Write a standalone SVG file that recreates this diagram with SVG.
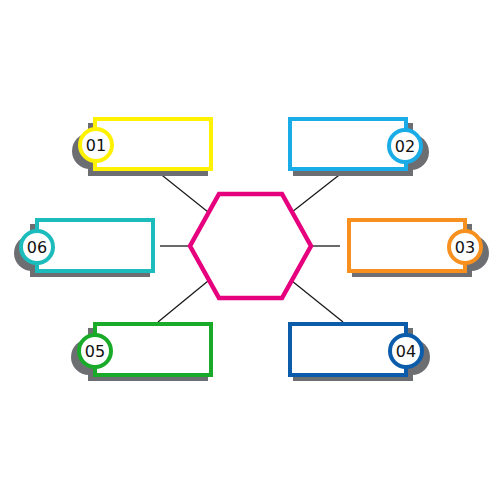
<svg xmlns="http://www.w3.org/2000/svg" width="500" height="500" viewBox="0 0 500 500">
<style>
.sh{fill:#6d6e71}
.bx{fill:#fff;stroke-width:4}
.num{font-family:"DejaVu Sans",Verdana,sans-serif;font-size:16px;fill:#111;text-anchor:middle}
.ln{stroke:#1a1a1a;stroke-width:1.3;fill:none}
</style>
<rect width="500" height="500" fill="#fff"/>
<g id="connectors">
<line class="ln" x1="158" y1="172" x2="208" y2="212"/>
<line class="ln" x1="343" y1="172" x2="292" y2="212"/>
<line class="ln" x1="160" y1="246" x2="189" y2="246"/>
<line class="ln" x1="340" y1="246" x2="311" y2="246"/>
<line class="ln" x1="158" y1="322" x2="208" y2="281"/>
<line class="ln" x1="343" y1="322" x2="292" y2="281"/>
</g>
<g id="hub">
<polygon points="219,194 282,194 311,246 282,298 219,298 190,246" fill="#fff" stroke="#e6007e" stroke-width="4.5"/>
</g>
<g id="node01">
<rect class="sh" x="88" y="123" width="120" height="53"/>
<circle class="sh" cx="90" cy="151" r="18"/>
<rect class="bx" x="95" y="119" width="116" height="50" stroke="#fff200"/>
<circle class="bx" cx="96" cy="145" r="16" stroke="#fff200"/>
<text class="num" x="96" y="150.5">01</text>
</g>
<g id="node02">
<rect class="sh" x="293" y="123" width="120" height="53"/>
<circle class="sh" cx="411" cy="152" r="18"/>
<rect class="bx" x="290" y="119" width="116" height="50" stroke="#1aace6"/>
<circle class="bx" cx="405" cy="146" r="16" stroke="#1aace6"/>
<text class="num" x="405" y="151.5">02</text>
</g>
<g id="node06">
<rect class="sh" x="30" y="224" width="120" height="53"/>
<circle class="sh" cx="32" cy="253" r="18"/>
<rect class="bx" x="37" y="220" width="116" height="51" stroke="#1cbcbc"/>
<circle class="bx" cx="37" cy="247" r="16" stroke="#1cbcbc"/>
<text class="num" x="37" y="252.5">06</text>
</g>
<g id="node03">
<rect class="sh" x="352" y="224" width="120" height="53"/>
<circle class="sh" cx="471" cy="253" r="18"/>
<rect class="bx" x="349" y="220" width="116" height="51" stroke="#f7901e"/>
<circle class="bx" cx="465" cy="247" r="16" stroke="#f7901e"/>
<text class="num" x="465" y="252.5">03</text>
</g>
<g id="node05">
<rect class="sh" x="88" y="328" width="120" height="53"/>
<circle class="sh" cx="89" cy="357" r="18"/>
<rect class="bx" x="95" y="324" width="116" height="51" stroke="#1aaa2a"/>
<circle class="bx" cx="95" cy="351" r="16" stroke="#1aaa2a"/>
<text class="num" x="95" y="356.5">05</text>
</g>
<g id="node04">
<rect class="sh" x="293" y="328" width="120" height="53"/>
<circle class="sh" cx="412" cy="357" r="18"/>
<rect class="bx" x="290" y="324" width="116" height="51" stroke="#0b5cab"/>
<circle class="bx" cx="406" cy="351" r="16" stroke="#0b5cab"/>
<text class="num" x="406" y="356.5">04</text>
</g>
</svg>
